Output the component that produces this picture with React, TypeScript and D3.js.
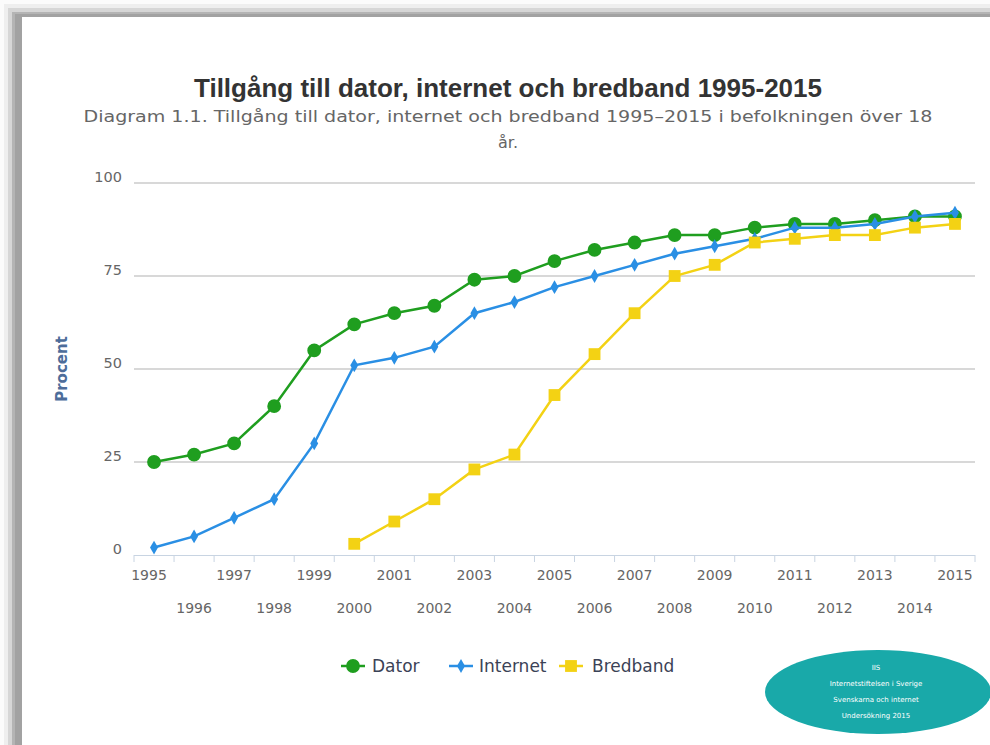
import React from 'react';
import * as d3 from 'd3';

const years = ['1995','1996','1997','1998','1999','2000','2001','2002','2003','2004','2005','2006','2007','2008','2009','2010','2011','2012','2013','2014','2015'];
const dator = [25, 27, 30, 40, 55, 62, 65, 67, 74, 75, 79, 82, 84, 86, 86, 88, 89, 89, 90, 91, 91];
const internet = [2, 5, 10, 15, 30, 51, 53, 56, 65, 68, 72, 75, 78, 81, 83, 85, 88, 88, 89, 91, 92];
const bredband = [null, null, null, null, null, 3, 9, 15, 23, 27, 43, 54, 65, 75, 78, 84, 85, 86, 86, 88, 89];
const yTicks = [0, 25, 50, 75, 100];
const logoLines = ['IIS', 'Internetstiftelsen i Sverige', 'Svenskarna och internet', 'Undersökning 2015'];

const series = [
  { name: 'Dator', values: dator, color: '#1f9e1f', symbol: d3.symbolCircle, size: 150 },
  { name: 'Internet', values: internet, color: '#2a8fe4', symbol: d3.symbolDiamond, size: 55 },
  { name: 'Bredband', values: bredband, color: '#f3d214', symbol: d3.symbolSquare, size: 140 },
];

const W = 990, H = 745;
const FONT = '"DejaVu Sans", Verdana, sans-serif';

export default function App() {
  const x = d3.scaleBand<string>().domain(years).range([134, 975]).padding(0);
  const cx = (yr: string) => (x(yr) as number) + x.bandwidth() / 2;
  const y = d3.scaleLinear().domain([0, 100]).range([555, 183]);

  const line = d3.line<any>()
    .defined(d => d.v != null)
    .x(d => cx(d.yr))
    .y(d => y(d.v));

  // legend symbol centre and text start
  const legendPos = [
    { x: 353, tx: 372 },
    { x: 461, tx: 479 },
    { x: 571, tx: 592 },
  ];

  return (
    <svg width={W} height={H} style={{ position: 'absolute', left: 0, top: 0, display: 'block' }}>
      {/* frame shadow */}
      <rect x={0} y={0} width={W} height={H} fill="#fbfbfb" />
      <rect x={4} y={4} width={W} height={H} fill="#eeeeee" />
      <rect x={8} y={8} width={W} height={H} fill="#d6d6d6" />
      <rect x={12} y={12} width={W} height={H} fill="#b4b4b4" />
      <rect x={15} y={14} width={W} height={H} fill="#a2a2a2" />
      <rect x={22} y={17} width={W} height={H} fill="#ffffff" />

      <text x={508} y={97} textAnchor="middle" fontFamily='"Liberation Sans", Arial, sans-serif'
        fontWeight="bold" fontSize={26} fill="#333333">
        Tillgång till dator, internet och bredband 1995-2015
      </text>
      <text x={508} y={122} textAnchor="middle" fontFamily={FONT} fontSize={16} fill="#666666"
        textLength={849} lengthAdjust="spacingAndGlyphs">
        Diagram 1.1. Tillgång till dator, internet och bredband 1995–2015 i befolkningen över 18
      </text>
      <text x={508} y={148} textAnchor="middle" fontFamily={FONT} fontSize={16} fill="#666666">år.</text>

      {/* grid */}
      {yTicks.filter(t => t > 0).map(t => (
        <line key={t} x1={134} x2={975} y1={y(t)} y2={y(t)} stroke="#d8d8d8" strokeWidth={2} />
      ))}
      {yTicks.map(t => (
        <text key={'l' + t} x={122} y={y(t) - 1} textAnchor="end" fontFamily={FONT} fontSize={14.5} fill="#666666">{t}</text>
      ))}
      <text transform={`translate(67,${y(50)}) rotate(-90)`} textAnchor="middle" fontFamily={FONT}
        fontWeight="bold" fontSize={15} fill="#4d6d9a">Procent</text>

      {/* x axis */}
      <line x1={134} x2={975} y1={555.5} y2={555.5} stroke="#c8d4e2" strokeWidth={1} />
      {years.concat(['end']).map((yr, i) => {
        const xx = 134 + i * x.bandwidth();
        return <line key={'t' + i} x1={xx} x2={xx} y1={555} y2={562} stroke="#c8d4e2" />;
      })}
      {years.map((yr, i) => (
        <text key={'x' + yr} x={cx(yr) - (i === 0 ? 5 : 0)} y={i % 2 === 0 ? 580 : 613} textAnchor="middle"
          fontFamily={FONT} fontSize={14} fill="#666666">{yr}</text>
      ))}

      {/* series */}
      {series.map(s => {
        const pts = years.map((yr, i) => ({ yr, v: s.values[i] }));
        return (
          <g key={s.name}>
            <path d={line(pts) as string} fill="none" stroke={s.color} strokeWidth={2.5} />
            {pts.filter(p => p.v != null).map(p => (
              <path key={p.yr} transform={`translate(${cx(p.yr)},${y(p.v as number)})`}
                d={d3.symbol().type(s.symbol).size(s.size)() as string} fill={s.color} />
            ))}
          </g>
        );
      })}

      {/* legend */}
      {series.map((s, i) => (
        <g key={'lg' + s.name}>
          <line x1={legendPos[i].x - 12} x2={legendPos[i].x + 12} y1={666} y2={666} stroke={s.color} strokeWidth={2.5} />
          <path transform={`translate(${legendPos[i].x},666)`} d={d3.symbol().type(s.symbol).size(s.size)() as string} fill={s.color} />
          <text x={legendPos[i].tx} y={672} fontFamily={FONT} fontSize={17} fill="#3b4256">{s.name}</text>
        </g>
      ))}

      {/* logo */}
      <ellipse cx={878} cy={692} rx={113} ry={42} fill="#19a9a9" />
      {logoLines.map((t, i) => (
        <text key={t} x={876} y={670 + i * 16} textAnchor="middle" fontFamily={FONT} fontSize={7} fill="#ffffff">{t}</text>
      ))}
    </svg>
  );
}
